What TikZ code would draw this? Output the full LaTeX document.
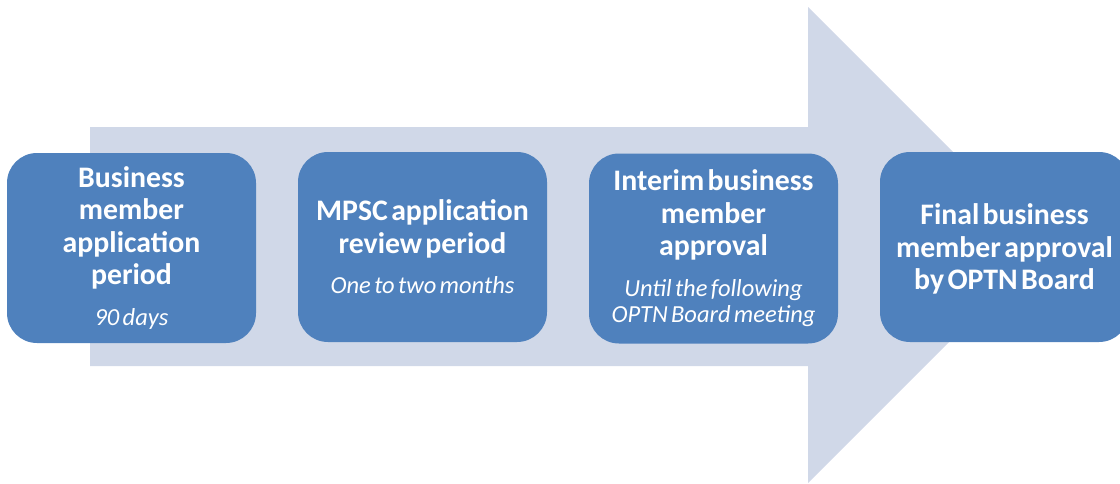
\documentclass[tikz,border=0pt]{standalone}
\usepackage{fontspec}
\setmainfont{Carlito}
\definecolor{boxblue}{HTML}{4F81BD}
\definecolor{arrowc}{HTML}{D0D8E8}
\tikzset{
  stepbox/.style={rectangle, rounded corners=30pt, fill=boxblue, text=white,
    minimum width=249pt, minimum height=190pt, inner xsep=4.5pt, inner ysep=0pt,
    text width=240pt, align=center},
  steptext/.style={text=white, inner sep=0pt, text width=240pt, align=center},
}
\newcommand{\hd}[1]{{\fontsize{29.8}{32.5}\selectfont\bfseries #1\par}}
\newcommand{\sub}[1]{\vspace{14pt}{\fontsize{24.5}{26.5}\selectfont\itshape #1\par}}
\begin{document}
\begin{tikzpicture}[x=1pt,y=-1pt]
\useasboundingbox (0,0) rectangle (1120,483);
\clip (0,0) rectangle (1120,483);
\fill[arrowc] (90,127) -- (808,127) -- (808,7) -- (1046,245) -- (808,483) -- (808,366) -- (90,366) -- cycle;
\node[stepbox] (b1) at (131.5,248) {\hd{Business\\member\\application\\period}\sub{90 days}};
\node[stepbox] (b2) at (422.5,247) {\hd{MPSC application\\review period}\sub{One to two months}};
\node[stepbox] (b3) at (713.5,248.5) {\hd{Interim business\\member\\approval}\sub{Until the following\\OPTN Board meeting}};
\node[stepbox] (b4) at (1004.5,247) {};
\node[steptext] (b4t) at ([yshift=-2pt]b4.center) {\hd{Final business\\member approval\\by OPTN Board}};
\end{tikzpicture}
\end{document}
